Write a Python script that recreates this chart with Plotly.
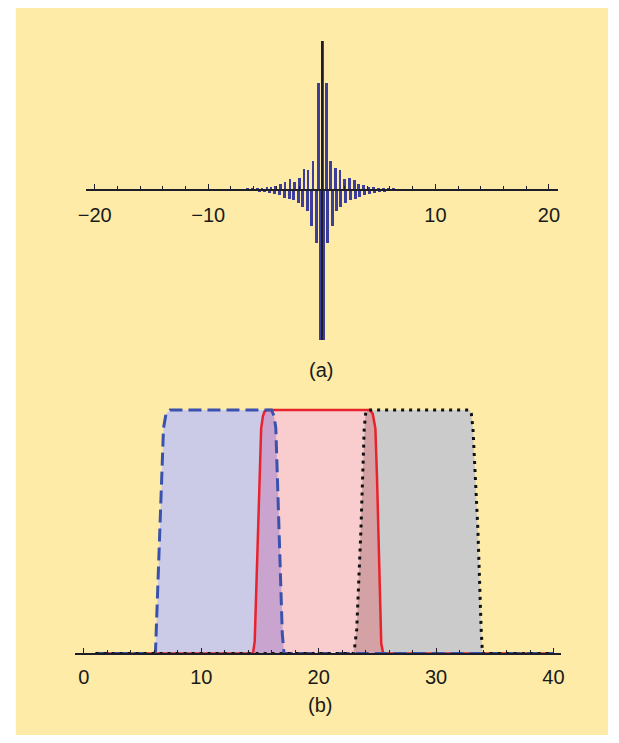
import numpy as np
import plotly.graph_objects as go

W, H = 619, 743

# ---------- panel (a): oscillating response, column extrema ----------
pos_x = [-9.5, -9.0, -8.5, -8.0, -7.5, -7.05, -6.6, -6.15, -5.7, -5.3, -4.86, -4.5, -4.13,
         -3.7, -3.27, -2.84, -2.41, -1.97, -1.6, -1.25, -0.82, -0.34,
         0.0,
         0.35, 0.76, 1.2, 1.57, 1.97, 2.38, 2.82, 3.2, 3.65, 4.08, 4.5, 4.94, 5.38, 5.8,
         6.25, 6.7, 7.15, 7.6, 8.1, 8.6, 9.1]
pos_y = [0.002, 0.003, 0.003, 0.004, 0.005, 0.006, 0.007, 0.009, 0.011, 0.016, 0.018, 0.023, 0.027,
         0.038, 0.052, 0.074, 0.056, 0.079, 0.14, 0.135, 0.196, 0.72,
         1.0,
         0.72, 0.196, 0.146, 0.135, 0.072, 0.079, 0.07, 0.038, 0.034, 0.023, 0.018, 0.016, 0.011, 0.009,
         0.007, 0.006, 0.005, 0.004, 0.003, 0.003, 0.002]

neg_x = [-9.3, -8.8, -8.3, -7.8, -7.3, -6.85, -6.4, -5.95, -5.5, -5.08, -4.65, -4.22,
         -3.8, -3.35, -2.92, -2.49, -2.06, -1.72, -1.33, -0.98, -0.52, -0.12,
         0.12, 0.5, 0.9, 1.28, 1.63, 2.06, 2.49, 2.92, 3.3, 3.75, 4.18, 4.6, 5.03, 5.45, 5.9,
         6.35, 6.8, 7.25, 7.7, 8.2, 8.7, 9.2]
neg_y = [-0.002, -0.003, -0.003, -0.004, -0.005, -0.006, -0.008, -0.01, -0.012, -0.016, -0.02, -0.03,
         -0.036, -0.052, -0.06, -0.068, -0.09, -0.113, -0.14, -0.243, -0.356, -1.007,
         -1.007, -0.356, -0.243, -0.14, -0.113, -0.09, -0.068, -0.06, -0.05, -0.036, -0.03, -0.02,
         -0.016, -0.012, -0.01, -0.008, -0.006, -0.005, -0.004, -0.003, -0.003, -0.002]

top_ticks = [-20, -10, 10, 20]
top_ticktext = ["\u221220", "\u221210", "10", "20"]

# ---------- panel (b): three band-pass responses ----------
blue_x = [1, 6.0, 6.1, 6.45, 6.78, 7.0, 7.34, 15.98, 16.2, 16.35, 16.65, 16.9, 17.05, 40]
blue_y = [0, 0, 0.01, 0.47, 0.925, 0.985, 1.0, 1.0, 0.975, 0.925, 0.48, 0.08, 0, 0]

red_x = [1, 14.4, 14.55, 14.68, 14.81, 14.95, 15.1, 15.25, 15.4, 15.6,
         24.35, 24.6, 24.83, 24.97, 25.1, 25.22, 25.33, 25.5, 40]
red_y = [0, 0, 0.05, 0.25, 0.5, 0.74, 0.925, 0.975, 0.995, 1.0,
         1.0, 0.985, 0.925, 0.72, 0.51, 0.27, 0.04, 0, 0]

black_x = [1, 22.95, 23.05, 23.24, 23.6, 23.88, 24.0, 24.12,
           32.86, 33.0, 33.14, 33.56, 33.84, 33.95, 40]
black_y = [0, 0, 0.02, 0.1, 0.51, 0.925, 0.985, 1.0,
           1.0, 0.985, 0.925, 0.51, 0.1, 0, 0]

bottom_ticks = [0, 10, 20, 30, 40]

# ---------- colours ----------
YELLOW = "#fdeba7"
SIGNAL = "#3d3d9a"
AXIS = "#1e1e28"
BLUE_LINE = "#3a52ad"
RED_LINE = "#e8232c"
BLACK_LINE = "#111111"
BLUE_FILL = "#cbcbe8"
RED_FILL = "#f9cccd"
BLACK_FILL = "#cbcbcb"
BLUE_RED_FILL = "#c9a4ce"
RED_BLACK_FILL = "#d4a2a4"
FONT = "Liberation Sans, Arial, sans-serif"


def fx(px):
    return px / W


def fy(py):
    return 1 - py / H


fig = go.Figure()

# panel (a)
fig.add_trace(go.Bar(x=pos_x, y=pos_y, width=0.24, marker=dict(color=SIGNAL, line=dict(width=0)),
                     xaxis="x", yaxis="y", hoverinfo="skip"))
fig.add_trace(go.Bar(x=neg_x, y=neg_y, width=0.26, marker=dict(color=SIGNAL, line=dict(width=0)),
                     xaxis="x", yaxis="y", hoverinfo="skip"))

# panel (b) fills
for xs, ys, col in [(blue_x, blue_y, BLUE_FILL), (red_x, red_y, RED_FILL), (black_x, black_y, BLACK_FILL)]:
    fig.add_trace(go.Scatter(x=xs, y=ys, mode="lines", fill="tozeroy", fillcolor=col,
                             line=dict(width=0, color=col), xaxis="x2", yaxis="y2", hoverinfo="skip"))

# overlap regions: area under the lower of two neighbouring responses
g1 = np.linspace(14.0, 17.5, 400)
ov1 = np.minimum(np.interp(g1, blue_x, blue_y), np.interp(g1, red_x, red_y))
g2 = np.linspace(22.5, 26.0, 400)
ov2 = np.minimum(np.interp(g2, red_x, red_y), np.interp(g2, black_x, black_y))
for gx, gy, col in [(g1, ov1, BLUE_RED_FILL), (g2, ov2, RED_BLACK_FILL)]:
    fig.add_trace(go.Scatter(x=gx, y=gy, mode="lines", fill="tozeroy", fillcolor=col,
                             line=dict(width=0, color=col), xaxis="x2", yaxis="y2", hoverinfo="skip"))

# panel (b) outlines
fig.add_trace(go.Scatter(x=red_x, y=red_y, mode="lines", line=dict(color=RED_LINE, width=2.5),
                         xaxis="x2", yaxis="y2", hoverinfo="skip"))
fig.add_trace(go.Scatter(x=blue_x, y=blue_y, mode="lines",
                         line=dict(color=BLUE_LINE, width=3, dash="13px,6px"),
                         xaxis="x2", yaxis="y2", hoverinfo="skip"))
fig.add_trace(go.Scatter(x=black_x, y=black_y, mode="lines",
                         line=dict(color=BLACK_LINE, width=3, dash="3px,5px"),
                         xaxis="x2", yaxis="y2", hoverinfo="skip"))

tickfont = dict(family=FONT, size=20, color="#1a1a1a")

# panel (a) axes
y1_lo, y1_hi = -1.007, 1.0
fig.update_layout(
    xaxis=dict(domain=[fx(79), fx(560)], range=[-20.8, 20.8], anchor="free", position=fy(190),
               showgrid=False, zeroline=False, showline=True, linecolor=AXIS, linewidth=1.8,
               tickmode="array", tickvals=top_ticks, ticktext=top_ticktext,
               ticks="inside", ticklen=5, tickwidth=1.2, tickcolor=AXIS,
               minor=dict(ticks="inside", ticklen=3, tickwidth=1, tickcolor=AXIS, dtick=2, tick0=0),
               tickfont=tickfont, ticklabelstandoff=7, layer="above traces", fixedrange=True),
    yaxis=dict(domain=[fy(340), fy(41)], range=[y1_lo, y1_hi], anchor="free", position=fx(319.5),
               showgrid=False, zeroline=False, showline=True, linecolor=AXIS, linewidth=1.8,
               showticklabels=False, ticks="", layer="above traces", fixedrange=True),
    xaxis2=dict(domain=[fx(68.3), fx(563)], range=[-0.75, 40.64], anchor="free", position=fy(653.5),
                showgrid=False, zeroline=False, showline=True, linecolor=AXIS, linewidth=1.8,
                tickmode="array", tickvals=bottom_ticks,
                ticks="inside", ticklen=5, tickwidth=1.2, tickcolor=AXIS,
                minor=dict(ticks="inside", ticklen=3, tickwidth=1, tickcolor=AXIS, dtick=2, tick0=0),
                tickfont=tickfont, ticklabelstandoff=6, layer="above traces", fixedrange=True),
    yaxis2=dict(domain=[fy(653.5 + 0.05 * 243.5), fy(410 - 0.05 * 243.5)], range=[-0.05, 1.05],
                visible=False, fixedrange=True),
)

fig.update_layout(
    width=W, height=H, margin=dict(l=0, r=0, t=0, b=0),
    paper_bgcolor="white", plot_bgcolor="rgba(0,0,0,0)",
    barmode="overlay", bargap=0, showlegend=False,
    shapes=[dict(type="rect", xref="paper", yref="paper", x0=fx(8), x1=fx(611), y0=fy(735), y1=fy(8),
                 fillcolor=YELLOW, line=dict(width=0), layer="below")],
    annotations=[
        dict(text="(a)", x=fx(319), y=fy(370), xref="paper", yref="paper", showarrow=False,
             font=dict(family=FONT, size=20, color="#1a1a1a"), xanchor="center", yanchor="middle"),
        dict(text="(b)", x=fx(318), y=fy(705), xref="paper", yref="paper", showarrow=False,
             font=dict(family=FONT, size=20, color="#1a1a1a"), xanchor="center", yanchor="middle"),
    ],
)

fig.write_html("out.html")
